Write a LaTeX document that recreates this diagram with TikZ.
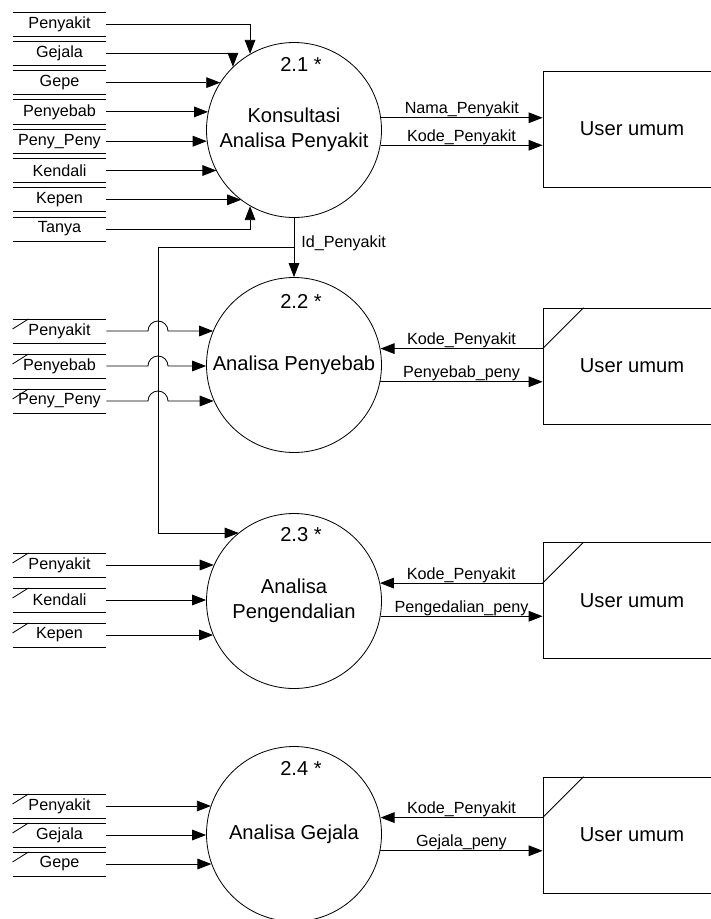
\documentclass[tikz,border=0pt]{standalone}
\usepackage{fontspec}
\setmainfont{Liberation Sans}
\usetikzlibrary{arrows.meta}

\begin{document}
\begin{tikzpicture}
[x=0.3mm,y=-0.3mm,line width=0.7pt,
 every node/.style={font=\fontsize{13.8}{16}\selectfont},
 proc/.style={circle,draw,minimum size=52.5mm,inner sep=0pt,align=center,font=\fontsize{17.2}{21.3}\selectfont},
 num/.style={font=\fontsize{17.2}{21.3}\selectfont},
 user/.style={rectangle,draw,minimum width=53.4mm,minimum height=34.8mm,font=\fontsize{17.2}{21.3}\selectfont},
 store/.style={minimum width=27.9mm,minimum height=7mm,inner sep=0pt},
 flow/.style={-{Triangle[length=4.2mm,width=3.2mm]}},
 lbl/.style={above,inner sep=0.1mm}]
  \useasboundingbox (0,0) rectangle (710,919);

  \node[proc] (p1) at (294,130) {Konsultasi\\Analisa Penyakit};
  \node[proc] (p2) at (294,365) {Analisa Penyebab};
  \node[proc] (p3) at (294,601) {Analisa\\Pengendalian};
  \node[proc] (p4) at (294,834) {Analisa Gejala};
  \node[num] (n1) at (301,64)  {2.1 *};
  \node[num] (n2) at (301,301) {2.2 *};
  \node[num] (n3) at (301,535) {2.3 *};
  \node[num] (n4) at (301,768) {2.4 *};

  \node[user] (u1) at (632,129) {User umum};
  \node[user] (u2) at (632,366) {User umum};
  \node[user] (u3) at (632,600.5) {User umum};
  \node[user] (u4) at (632,835) {User umum};

  \node[store] (s1) at (59.5,24)    {Penyakit};
  \node[store] (s2) at (59.5,53.3)  {Gejala};
  \node[store] (s3) at (59.5,82.6)  {Gepe};
  \node[store] (s4) at (59.5,111.9) {Penyebab};
  \node[store] (s5) at (59.5,141.2) {Peny\_Peny};
  \node[store] (s6) at (59.5,170.5) {Kendali};
  \node[store] (s7) at (59.5,199.8) {Kepen};
  \node[store] (s8) at (59.5,229.1) {Tanya};

  \node[store] (a1) at (59.5,331) {Penyakit};
  \node[store] (a2) at (59.5,366) {Penyebab};
  \node[store] (a3) at (59.5,401) {Peny\_Peny};

  \node[store] (b1) at (59.5,565) {Penyakit};
  \node[store] (b2) at (59.5,600) {Kendali};
  \node[store] (b3) at (59.5,635) {Kepen};

  \node[store] (c1) at (59.5,806) {Penyakit};
  \node[store] (c2) at (59.5,835) {Gejala};
  \node[store] (c3) at (59.5,864) {Gepe};

  \foreach \s in {s1,s2,s3,s4,s5,s6,s7,s8,a1,a2,a3,b1,b2,b3,c1,c2,c3}
    \draw (\s.north west) -- (\s.north east) (\s.south west) -- (\s.south east);
  \foreach \s in {a1,a2,a3,b1,b2,b3,c1,c2,c3}
    \draw (\s.north west) ++(0,10) -- ++(16,-10);

  \draw[flow] (s1.east) -| (p1.120);
  \draw[flow] (s2.east) -| (p1.134);
  \foreach \from/\to in {s3/147, s4/168, s5/187, s6/208, s7/233}
    \draw[flow] (\from.east) -- (p1.\to |- \from.east);
  \draw[flow] (s8.east) -| (p1.240);

  \coordinate (j1) at (294,247);
  \coordinate (j2) at (158,533);
  \coordinate (h1) at (148,0);
  \draw[flow] (p1.south) -- node[lbl,pos=.43,right=2mm] {Id\_Penyakit} (p2.north);
  \draw[flow] (j1) -| (j2) -- (p3.129 |- j2);

  \foreach \from/\to in {a1/157, a2/181, a3/204}
    \draw[flow] (\from.east) -- (\from.east -| h1)
      arc[start angle=180,end angle=0,radius=3mm] -- (p2.\to |- \from.east);
  \foreach \from/\to in {b1/156, b2/179, b3/203}
    \draw[flow] (\from.east) -- (p3.\to |- \from.east);
  \foreach \from/\to in {c1/161, c2/181, c3/200}
    \draw[flow] (\from.east) -- (p4.\to |- \from.east);

  \draw[flow] (p1.8) -- node[lbl] {Nama\_Penyakit} (p1.8 -| u1.west);
  \draw[flow] (p1.350) -- node[lbl] {Kode\_Penyakit} (p1.350 -| u1.west);

  \coordinate (k2) at ([yshift=-12.3mm]u2.north west);
  \coordinate (k3) at ([yshift=-12.3mm]u3.north west);
  \coordinate (k4) at ([yshift=-12.3mm]u4.north west);
  \foreach \k in {k2,k3,k4}
    \draw (\k) -- ++(41,-41);

  \draw[flow] (k2) -- node[lbl] {Kode\_Penyakit} (k2 -| p2.10);
  \draw[flow] (p2.349) -- node[lbl] {Penyebab\_peny} (p2.349 -| u2.west);
  \draw[flow] (k3) -- node[lbl] {Kode\_Penyakit} (k3 -| p3.12);
  \draw[flow] (p3.350) -- node[lbl] {Pengedalian\_peny} (p3.350 -| u3.west);
  \draw[flow] (k4) -- node[lbl] {Kode\_Penyakit} (k4 -| p4.10);
  \draw[flow] (p4.349) -- node[lbl] {Gejala\_peny} (p4.349 -| u4.west);

\end{tikzpicture}
\end{document}
